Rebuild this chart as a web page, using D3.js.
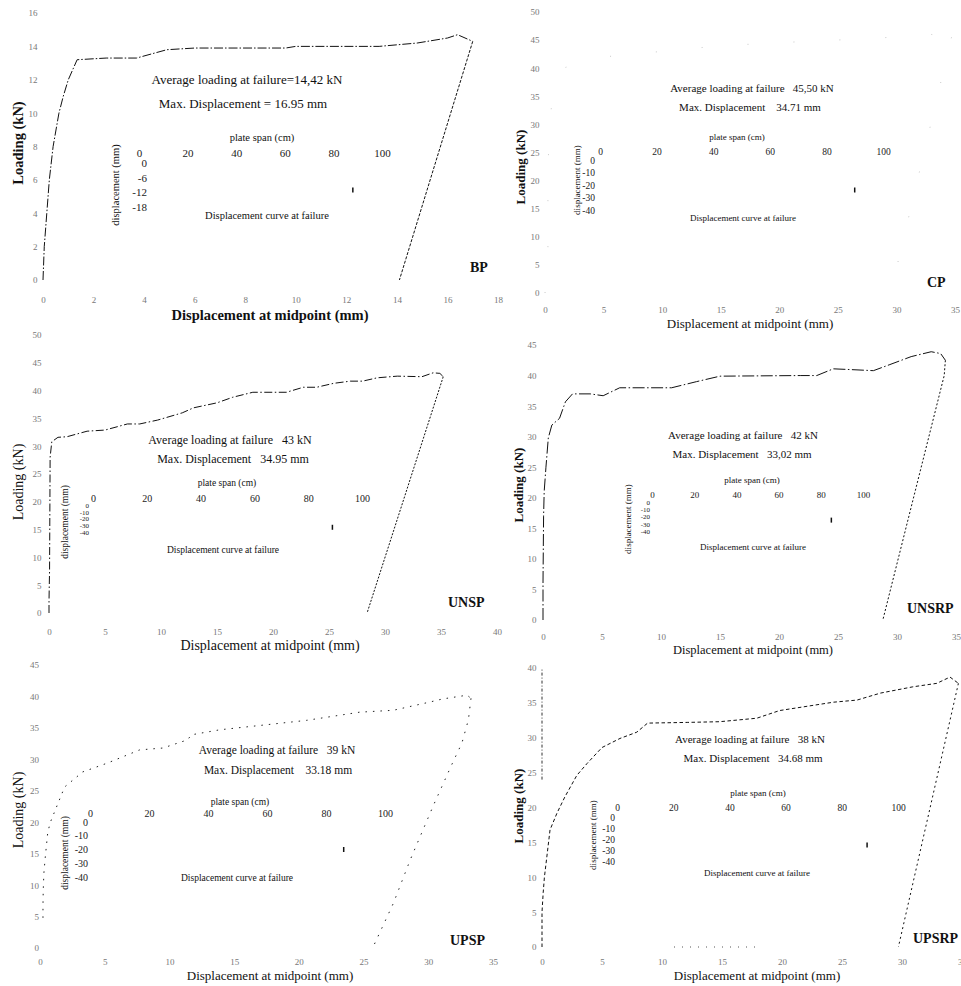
<!DOCTYPE html>
<html><head><meta charset="utf-8">
<script src="https://cdn.jsdelivr.net/npm/d3@7"></script>
<style>
body{margin:0;background:#fff}
svg{display:block}
text{font-family:"Liberation Serif","Times New Roman",serif;white-space:pre}
</style>
</head><body>
<svg id="chart" width="961" height="986"></svg>
<script>
// ---------- DATA ----------
// BP
const bpLoad = [[0,0],[0.05,2],[0.15,4],[0.25,6],[0.4,8],[0.63,10],[0.8,11],[1.0,12],[1.35,13.2],[2.5,13.3],[3.7,13.3],[4.9,13.8],[6,13.9],[9.6,13.9],[10,14.0],[13.3,14.0],[14.8,14.2],[16,14.5],[16.4,14.7],[17.0,14.3]];
const bpUnload = [[17.0,14.3],[14.1,0]];
const bpXTicks = [0,2,4,6,8,10,12,14,16,18];
const bpYTicks = [0,2,4,6,8,10,12,14,16];
const bpInsetY = [0,-6,-12,-18];
const bpMarker = [88,-11];
// CP
const cpLoad = [[0,0],[0.25,5],[0.25,17],[0.3,25],[0.6,35],[1.5,40],[5,42],[10,43],[15,44],[21.6,44.7],[28,45.3],[33,46],[34.7,45.5]];
const cpUnload = [[34.7,45.5],[29.5,0]];
const cpXTicks = [0,5,10,15,20,25,30,35];
const cpYTicks = [0,5,10,15,20,25,30,35,40,45,50];
const cpMarker = [90,-24];
// UNSP
const unspLoad = [[0,0],[0,2],[0.02,4.5],[0.05,7.5],[0.1,28],[0.25,30.8],[0.8,31.6],[1.6,31.7],[3.4,32.7],[5,32.9],[7,34],[8.1,34],[9.7,34.7],[11.9,36],[12.9,36.9],[15,37.8],[16.4,38.8],[18.2,39.7],[21.2,39.7],[22.7,40.6],[23.9,40.6],[25.4,41.3],[26.9,41.7],[28,41.7],[29.3,42.3],[31.1,42.6],[33.3,42.5],[34.3,43.2],[34.9,43.1],[35.2,42.5]];
const unspUnload = [[35.2,42.5],[28.4,0]];
const unspXTicks = [0,5,10,15,20,25,30,35,40];
const unspYTicks = [0,5,10,15,20,25,30,35,40,45,50];
const unspMarker = [89,-33];
// UNSRP
const unsrpLoad = [[0,0],[0,6],[0.05,17],[0.1,21],[0.25,25],[0.45,29.8],[0.75,31.9],[1.4,33],[1.9,35.7],[2.5,37],[4,37],[5.1,36.7],[6.5,38],[10.9,38],[13,39],[15,39.9],[21.8,40],[23.2,40],[24.6,41.1],[25.8,41],[28,40.8],[29.4,41.8],[31.2,43.1],[32.9,43.9],[33.7,43.6],[34.1,42.5]];
const unsrpUnload = [[34.1,42.5],[34.0,40],[28.8,0]];
const unsrpXTicks = [0,5,10,15,20,25,30,35];
const unsrpYTicks = [0,5,10,15,20,25,30,35,40,45];
const unsrpMarker = [85,-25];
// UPSP
const upspLoad = [[0.23,4.8],[0.23,6.8],[0.25,9.2],[0.3,11.9],[0.4,14.3],[0.6,18.4],[0.8,20],[1.9,25.6],[3.3,28],[5.2,29.4],[7.7,31.5],[9.5,31.8],[11.4,33.1],[11.7,33.9],[13.9,34.7],[17.5,35.5],[20.6,36.2],[24.7,37.5],[27.3,37.8],[30.1,39.1],[31.1,39.6],[33,40.2],[33.3,39.7]];
const upspUnload = [[33.3,39.7],[33.1,36.3],[32.6,32.6],[31.8,29.1],[30.4,22.7],[28.6,14],[27.3,7.1],[25.7,0]];
const upspXTicks = [0,5,10,15,20,25,30,35];
const upspYTicks = [0,5,10,15,20,25,30,35,40,45];
const upspMarker = [86,-20];
// UPSRP
const upsrpLoad = [[0,0],[0,5],[0.1,7.8],[0.2,10],[0.67,16.8],[1.25,19.2],[1.9,21.5],[2.9,24.6],[3.75,26.3],[5,28.6],[6.5,29.9],[7.9,30.8],[8.8,32.1],[12.1,32.2],[14.8,32.3],[17.9,32.8],[19.8,33.9],[24.3,35.1],[26.25,35.4],[28.2,36.4],[30.9,37.3],[32.9,37.8],[34,38.7],[34.7,37.8]];
const upsrpUnload = [[34.7,37.8],[29.7,0]];
const upsrpXTicks = [0,5,10,15,20,25,30,35];
const upsrpYTicks = [0,5,10,15,20,25,30,35,40];
const upsrpMarker = [89,-25.5];
// shared inset ticks
const insetXTicks = [0,20,40,60,80,100];
const insetYTicks = [0,-10,-20,-30,-40];

// ---------- LAYOUT ----------
const panels = [
 {tag:"BP", load:bpLoad, unload:bpUnload, xt:bpXTicks, yt:bpYTicks, xDom:[0,18], yDom:[0,16], x0:43,x1:498,y0:280,y1:13, xPad:16.5, yPad:5.5,
  xTitle:[270,315,14.5,"bold"], yTitle:[18,143,14.5,"bold"],
  ann:["Average loading at failure=14,42 kN","Max. Displacement = 16.95 mm"], ann1:[247,79], ann2:[243,103], annSize:13,
  iyt:bpInsetY, iyDom:[0,-18], ix0:139,ix1:382,iy0:163,iy1:207, ixLab:153, iyLab:147, iFont:11, iyFont:11,
  plate:[262,137], rot:[115,185], cl:[267,215], sFont:10.5, marker:bpMarker, tagPos:[470,272],
  dash:"9,2,1.5,2", udash:"3,1.5", stroke:"#111", op:1},
 {tag:"CP", load:cpLoad, unload:cpUnload, xt:cpXTicks, yt:cpYTicks, xDom:[0,35], yDom:[0,50], x0:545,x1:955,y0:293,y1:12, xPad:13.5, yPad:5.5,
  xTitle:[750,323,13,"normal"], yTitle:[520,167,13,"bold"],
  ann:["Average loading at failure   45,50 kN","Max. Displacement    34.71 mm"], ann1:[752,88], ann2:[750,107], annSize:11,
  iyt:insetYTicks, iyDom:[0,-40], ix0:600,ix1:883,iy0:160,iy1:210, ixLab:152, iyLab:595, iFont:9.5, iyFont:9.5,
  plate:[737,137], rot:[577,180], cl:[743,218], sFont:9, marker:cpMarker, tagPos:[927,287],
  dash:"1,45", udash:"1,45", stroke:"#888", op:0.45},
 {tag:"UNSP", load:unspLoad, unload:unspUnload, xt:unspXTicks, yt:unspYTicks, xDom:[0,40], yDom:[0,50], x0:49,x1:497,y0:613,y1:335, xPad:15.5, yPad:7.5,
  xTitle:[270,645,14,"normal"], yTitle:[18,482,14,"normal"],
  ann:["Average loading at failure   43 kN","Max. Displacement   34.95 mm"], ann1:[230,440], ann2:[233,459], annSize:12,
  iyt:insetYTicks, iyDom:[0,-40], ix0:93,ix1:362,iy0:505,iy1:532, ixLab:498, iyLab:89, iFont:10, iyFont:7,
  plate:[227,483], rot:[65,522], cl:[223,550], sFont:9.5, marker:unspMarker, tagPos:[448,607],
  dash:"8,2.5,1.5,2.5", udash:"2,1.5", stroke:"#111", op:1},
 {tag:"UNSRP", load:unsrpLoad, unload:unsrpUnload, xt:unsrpXTicks, yt:unsrpYTicks, xDom:[0,35], yDom:[0,45], x0:543,x1:956,y0:620,y1:345, xPad:13.5, yPad:6.5,
  xTitle:[753,650,12.5,"normal"], yTitle:[518,485,13,"bold"],
  ann:["Average loading at failure   42 kN","Max. Displacement   33,02 mm"], ann1:[743,435], ann2:[742,454], annSize:11,
  iyt:insetYTicks, iyDom:[0,-40], ix0:652,ix1:863,iy0:502,iy1:531, ixLab:495, iyLab:650, iFont:9, iyFont:7,
  plate:[752,480], rot:[628,519], cl:[753,547], sFont:9, marker:unsrpMarker, tagPos:[907,613],
  dash:"12,2.5,1.5,2.5", udash:"2,2", stroke:"#111", op:1},
 {tag:"UPSP", load:upspLoad, unload:upspUnload, xt:upspXTicks, yt:upspYTicks, xDom:[0,35], yDom:[0,45], x0:40,x1:493,y0:948,y1:665, xPad:10.5, yPad:1,
  xTitle:[270,975,13,"normal"], yTitle:[18,810,14,"normal"],
  ann:["Average loading at failure   39 kN","Max. Displacement    33.18 mm"], ann1:[277,750], ann2:[278,770], annSize:11.5,
  iyt:insetYTicks, iyDom:[0,-40], ix0:90,ix1:385,iy0:822,iy1:877, ixLab:813, iyLab:88, iFont:10, iyFont:10,
  plate:[240,802], rot:[65,853], cl:[237,878], sFont:9.5, marker:upspMarker, tagPos:[450,945],
  dash:"1.5,6", udash:"1.5,7", stroke:"#222", op:1},
 {tag:"UPSRP", load:upsrpLoad, unload:upsrpUnload, xt:upsrpXTicks, yt:upsrpYTicks, xDom:[0,35], yDom:[0,40], x0:542,x1:962,y0:947,y1:668, xPad:11.5, yPad:5.5,
  xTitle:[757,975,13,"normal"], yTitle:[518,806,13,"bold"],
  ann:["Average loading at failure   38 kN","Max. Displacement   34.68 mm"], ann1:[750,739], ann2:[753,758], annSize:11,
  iyt:insetYTicks, iyDom:[0,-40], ix0:617,ix1:898,iy0:817,iy1:861, ixLab:808, iyLab:615, iFont:9.5, iyFont:9.5,
  plate:[758,793], rot:[593,835], cl:[757,873], sFont:9, marker:upsrpMarker, tagPos:[913,943],
  dash:"3.5,2.5", udash:"2,3", stroke:"#111", op:1, partialAxes:true}
];

const svg = d3.select("#chart");
const fmt = d => String(d);

function text(g, x, y, s, size, weight, anchor, rot){
  const t = g.append("text").attr("x",x).attr("y",y).attr("dy","0.35em")
    .attr("text-anchor",anchor||"middle").attr("font-size",size)
    .attr("font-weight",weight||"normal").attr("fill","#111").text(s);
  if(rot) t.attr("transform",`rotate(${rot},${x},${y})`);
  return t;
}

panels.forEach(p=>{
  const g = svg.append("g");
  const x = d3.scaleLinear().domain(p.xDom).range([p.x0,p.x1]);
  const y = d3.scaleLinear().domain(p.yDom).range([p.y0,p.y1]);

  const ax = g.append("g").attr("transform",`translate(0,${p.y0})`)
    .call(d3.axisBottom(x).tickValues(p.xt).tickSize(0).tickPadding(p.xPad).tickFormat(fmt));
  const ay = g.append("g").attr("transform",`translate(${p.x0},0)`)
    .call(d3.axisLeft(y).tickValues(p.yt).tickSize(0).tickPadding(p.yPad).tickFormat(fmt));
  [ax,ay].forEach(a=>{
    a.attr("font-family",null);
    a.select(".domain").remove();
    a.selectAll("text").attr("font-size",9).attr("fill","#777");
  });

  if(p.partialAxes){
    g.append("line").attr("x1",x(0)).attr("x2",x(0)).attr("y1",y(24)).attr("y2",y(40))
      .attr("stroke","#333").attr("stroke-width",1).attr("stroke-dasharray","3,2,1,2");
    g.append("line").attr("x1",x(11)).attr("x2",x(18)).attr("y1",y(0)).attr("y2",y(0))
      .attr("stroke","#555").attr("stroke-width",1).attr("stroke-dasharray","1,7");
  }

  const line = d3.line().x(d=>x(d[0])).y(d=>y(d[1]));
  g.append("path").attr("d",line(p.load)).attr("fill","none").attr("stroke",p.stroke)
    .attr("stroke-opacity",p.op).attr("stroke-width",1).attr("stroke-dasharray",p.dash);
  g.append("path").attr("d",line(p.unload)).attr("fill","none").attr("stroke",p.stroke)
    .attr("stroke-opacity",p.op).attr("stroke-width",1).attr("stroke-dasharray",p.udash);

  // titles
  text(g,p.xTitle[0],p.xTitle[1],"Displacement at midpoint (mm)",p.xTitle[2],p.xTitle[3]);
  text(g,p.yTitle[0],p.yTitle[1],"Loading (kN)",p.yTitle[2],p.yTitle[3],"middle",-90);
  text(g,p.ann1[0],p.ann1[1],p.ann[0],p.annSize);
  text(g,p.ann2[0],p.ann2[1],p.ann[1],p.annSize);

  // inset
  const ix = d3.scaleLinear().domain([0,100]).range([p.ix0,p.ix1]);
  const iy = d3.scaleLinear().domain(p.iyDom).range([p.iy0,p.iy1]);
  const iax = g.append("g").attr("transform",`translate(0,${p.ixLab+p.iFont*0.35})`)
    .call(d3.axisTop(ix).tickValues(insetXTicks).tickSize(0).tickPadding(0).tickFormat(fmt));
  const iay = g.append("g").attr("transform",`translate(${p.iyLab},0)`)
    .call(d3.axisLeft(iy).tickValues(p.iyt).tickSize(0).tickPadding(0).tickFormat(fmt));
  iax.attr("font-family",null).select(".domain").remove();
  iay.attr("font-family",null).select(".domain").remove();
  iax.selectAll("text").attr("font-size",p.iFont).attr("fill","#222");
  iay.selectAll("text").attr("font-size",p.iyFont).attr("fill","#222");
  text(g,p.plate[0],p.plate[1],"plate span (cm)",p.sFont);
  text(g,p.rot[0],p.rot[1],"displacement (mm)",p.sFont,"normal","middle",-90);
  text(g,p.cl[0],p.cl[1],"Displacement curve at failure",p.sFont);
  g.append("line").attr("x1",ix(p.marker[0])).attr("x2",ix(p.marker[0]))
    .attr("y1",iy(p.marker[1])-2.5).attr("y2",iy(p.marker[1])+2.5)
    .attr("stroke","#111").attr("stroke-width",1.5);

  g.append("text").attr("x",p.tagPos[0]).attr("y",p.tagPos[1]).attr("font-size",14)
    .attr("font-weight","bold").attr("fill","#111").text(p.tag);
});
</script>
</body></html>
